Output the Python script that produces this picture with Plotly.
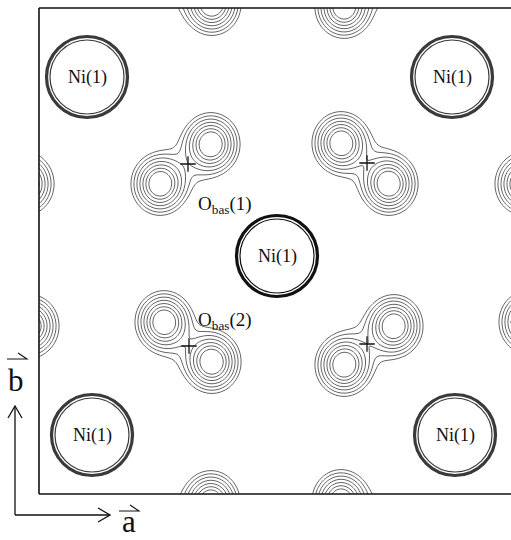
import numpy as np
import plotly.graph_objects as go

# Cell translations (pixel units of the drawing plane)
cell_a = 364.0
cell_b = 358.0

# Ni(1) sites
ni_x = [87, 452, 277, 92, 455]
ni_y = [77, 77, 256, 435, 435]
ni_label = ["Ni(1)"] * 5

# basal oxygen density maxima (two lobes per site)
o_x = [160, 211, 341, 389, 164, 212, 344, 394]
o_y = [184, 144, 143, 184, 322, 362, 365, 326]
o_sx = 12.5
o_sy = 13.5

# split-site centres marked with a cross (broad, weak bridging density)
cross_x = [188, 367, 189, 367]
cross_y = [164, 163, 346, 344]
bridge_w = 0.09
bridge_s = 18.0

# site labels
lab_text = ["O<sub>bas</sub>(1)", "O<sub>bas</sub>(2)"]
lab_x = [196, 196]
lab_y = [205, 321]

# frame of the map section
x0, x1, y0, y1 = 39, 511, 8, 494

xs = np.arange(x0, x1 + 0.5, 1.0)
ys = np.arange(y0, y1 + 0.5, 1.0)
X, Y = np.meshgrid(xs, ys)
Z = np.zeros_like(X)
peaks = [(x, y, 1.0, o_sx, o_sy) for x, y in zip(o_x, o_y)] + \
        [(x, y, bridge_w, bridge_s, bridge_s) for x, y in zip(cross_x, cross_y)]
for ox, oy, w, sx, sy in peaks:
    for i in (-1, 0, 1):
        for j in (-1, 0, 1):
            cx = ox + i * cell_a
            cy = oy + j * cell_b
            Z += w * np.exp(-0.5 * (((X - cx) / sx) ** 2 + ((Y - cy) / sy) ** 2))

# express the density as an equivalent radius so the iso-lines are evenly spaced
D = o_sx * np.sqrt(-2.0 * np.log(np.clip(Z, 1e-300, None)))

fig = go.Figure()

fig.add_trace(go.Contour(
    x=xs, y=ys, z=D,
    contours=dict(start=11, end=29.5, size=3, coloring="none"),
    line=dict(color="#3c3c3c", width=0.8, smoothing=1),
    showscale=False, hoverinfo="skip",
))

fig.add_trace(go.Scatter(
    x=cross_x, y=cross_y, mode="markers",
    marker=dict(symbol="cross-thin", size=11, line=dict(width=1.3, color="#111")),
    hoverinfo="skip", showlegend=False,
))

shapes = []
# Ni(1) rings: heavy outer ring with a thin inner one
for k, (nx, ny) in enumerate(zip(ni_x, ni_y)):
    col = "#111" if k == 2 else "#3a3a3a"
    r1 = 40.5
    r2 = 37.0
    shapes.append(dict(type="circle", xref="x", yref="y",
                       x0=nx - r1, x1=nx + r1, y0=ny - r1, y1=ny + r1,
                       line=dict(color=col, width=3.2)))
    shapes.append(dict(type="circle", xref="x", yref="y",
                       x0=nx - r2, x1=nx + r2, y0=ny - r2, y1=ny + r2,
                       line=dict(color=col, width=1.2)))

# frame (left, top, bottom)
frame_line = dict(color="#111", width=1.6)
shapes += [
    dict(type="line", x0=x0, x1=x0, y0=y0, y1=y1, line=frame_line),
    dict(type="line", x0=x0, x1=x1 + 2, y0=y0, y1=y0, line=frame_line),
    dict(type="line", x0=x0, x1=x1 + 2, y0=y1, y1=y1, line=frame_line),
]

# axis arrows
ax_line = dict(color="#111", width=1.3)
shapes += [
    dict(type="line", x0=15, x1=15, y0=515, y1=406, line=ax_line),
    dict(type="path", path="M 8 418 L 15 406 L 22 418", line=ax_line),
    dict(type="line", x0=15, x1=110, y0=515, y1=515, line=ax_line),
    dict(type="path", path="M 98 508 L 110 515 L 98 522", line=ax_line),
    # vector bars over the axis letters
    dict(type="path", path="M 7 359 L 27 359 L 18 353", line=dict(color="#111", width=1.1)),
    dict(type="path", path="M 119 511 L 139 511 L 130 505", line=dict(color="#111", width=1.1)),
]

annotations = []
for nx, ny, t in zip(ni_x, ni_y, ni_label):
    annotations.append(dict(x=nx, y=ny, text=t, showarrow=False,
                            font=dict(family="Liberation Serif", size=18, color="#111")))
for lx, ly, t in zip(lab_x, lab_y, lab_text):
    annotations.append(dict(x=lx, y=ly, text=t, showarrow=False, xanchor="left",
                            font=dict(family="Liberation Serif", size=19, color="#111")))
annotations.append(dict(x=16, y=380, text="b", showarrow=False,
                        font=dict(family="Liberation Serif", size=31, color="#111")))
annotations.append(dict(x=129, y=521, text="a", showarrow=False,
                        font=dict(family="Liberation Serif", size=31, color="#111")))

fig.update_layout(
    width=511, height=540,
    margin=dict(l=0, r=0, t=0, b=0),
    paper_bgcolor="white", plot_bgcolor="white",
    xaxis=dict(range=[0, 511], visible=False, fixedrange=True),
    yaxis=dict(range=[540, 0], visible=False, fixedrange=True),
    shapes=shapes, annotations=annotations,
    showlegend=False,
)

fig.write_html("out.html")
